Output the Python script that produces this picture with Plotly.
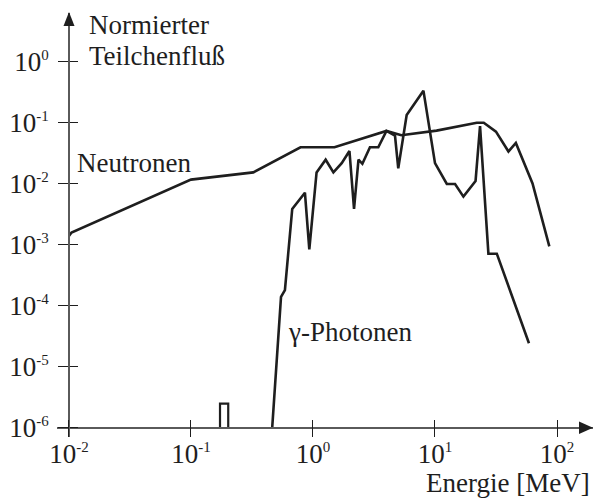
import plotly.graph_objects as go

# ---- data ----
neutron_E = [0.01, 0.0105, 0.1, 0.324, 0.79, 1.5, 4.0, 5.3, 10.3, 22.0, 25.1, 31.6, 40.0, 46.0, 63.0, 86.5]
neutron_F = [1.41e-3, 1.6e-3, 0.0118, 0.0155, 0.040, 0.040, 0.074, 0.063, 0.075, 0.101, 0.101, 0.072, 0.034, 0.047, 0.0102, 9.5e-4]

gamma_E = [0.463, 0.547, 0.589, 0.676, 0.859, 0.933, 1.07, 1.27, 1.47, 1.72, 1.99, 2.17, 2.36, 2.54,
           2.93, 3.43, 4.0, 4.7, 5.0, 5.86, 8.04, 10.0, 12.5, 14.6, 17.1, 21.5, 23.4, 27.4, 32.1, 58.9]
gamma_F = [1e-6, 1.41e-4, 1.82e-4, 3.9e-3, 7.2e-3, 8.5e-4, 0.0155, 0.025, 0.0155, 0.022, 0.0347, 3.9e-3, 0.025, 0.0214,
           0.040, 0.040, 0.074, 0.062, 0.018, 0.135, 0.339, 0.022, 0.010, 0.010, 6.2e-3, 0.0112, 0.089, 7.2e-4, 7.2e-4, 2.45e-5]

bump_E = [0.173, 0.173, 0.202, 0.202]
bump_F = [1e-6, 2.5e-6, 2.5e-6, 1e-6]

x_tickvals = [0.01, 0.1, 1, 10, 100]
x_exps = ["-2", "-1", "0", "1", "2"]
y_tickvals = [1e-6, 1e-5, 1e-4, 1e-3, 1e-2, 1e-1, 1]
y_exps = ["-6", "-5", "-4", "-3", "-2", "-1", "0"]

def pow_label(e):
    return f"10<sup><span style='font-size:15px'>{e}</span></sup>"

x_ticktext = [pow_label(e) for e in x_exps]
y_ticktext = [pow_label(e) for e in y_exps]

# ---- geometry ----
W, H = 593, 502
L, R, T, B = 57, 0, 13, 65
PW, PH = W - L - R, H - T - B
XR = [-2.098, 2.295]
YR = [-6.148, 0.803]
FONT = "'Liberation Serif', 'Times New Roman', Times, 'DejaVu Serif', serif"
AX = "#5a5a5a"
INK = "#1e1e1e"

def px(x):
    return (x - L) / PW

def py(y):
    return (H - B - y) / PH

yaxis_pos = px(69)
xaxis_pos = py(427.7)

fig = go.Figure()
line = dict(color=INK, width=2.6)
fig.add_trace(go.Scatter(x=neutron_E, y=neutron_F, mode="lines", line=line, hoverinfo="skip"))
fig.add_trace(go.Scatter(x=gamma_E, y=gamma_F, mode="lines", line=line, hoverinfo="skip"))
fig.add_trace(go.Scatter(x=bump_E, y=bump_F, mode="lines", line=dict(color=INK, width=2.2), hoverinfo="skip"))
# helper trace for inner-tick axes
fig.add_trace(go.Scatter(x=[1], y=[1], xaxis="x2", yaxis="y2", mode="markers",
                         marker=dict(opacity=0), hoverinfo="skip"))

tickfont = dict(family=FONT, size=27, color=INK)
common = dict(type="log", showgrid=False, zeroline=False)

fig.update_layout(
    width=W, height=H, margin=dict(l=L, r=R, t=T, b=B),
    paper_bgcolor="white", plot_bgcolor="white", showlegend=False,
    font=dict(family=FONT, size=27, color=INK),
    xaxis=dict(**common, range=XR, anchor="free", position=xaxis_pos,
               showline=True, linecolor=AX, linewidth=1.5,
               ticks="outside", ticklen=9, tickwidth=1.3, tickcolor=INK,
               tickvals=x_tickvals, ticktext=x_ticktext, tickfont=tickfont,
               ticklabelstandoff=-7),
    yaxis=dict(**common, range=YR, anchor="free", position=yaxis_pos,
               showline=True, linecolor=AX, linewidth=1.5,
               ticks="outside", ticklen=10, tickwidth=1.3, tickcolor=INK,
               tickvals=y_tickvals, ticktext=y_ticktext, tickfont=tickfont,
               ticklabelstandoff=4),
    xaxis2=dict(**common, range=XR, overlaying="x", anchor="free", position=xaxis_pos,
                showline=False, ticks="inside", ticklen=8, tickwidth=1.3, tickcolor=INK,
                tickvals=x_tickvals, showticklabels=False),
    yaxis2=dict(**common, range=YR, overlaying="y", anchor="free", position=yaxis_pos,
                showline=False, ticks="inside", ticklen=8, tickwidth=1.3, tickcolor=INK,
                tickvals=y_tickvals, showticklabels=False),
)

# arrow heads
fig.add_shape(type="path", xref="paper", yref="paper",
              path=f"M {px(69)} {py(12)} L {px(63.5)} {py(26)} L {px(74.5)} {py(26)} Z",
              fillcolor=INK, line=dict(width=0))
fig.add_shape(type="path", xref="paper", yref="paper",
              path=f"M {px(593)} {py(427.7)} L {px(579)} {py(421.5)} L {px(579)} {py(434)} Z",
              fillcolor=INK, line=dict(width=0))

def label(text, x, y, xanchor="left"):
    fig.add_annotation(text=text, xref="paper", yref="paper", x=px(x), y=py(y),
                       xanchor=xanchor, yanchor="middle", showarrow=False,
                       font=dict(family=FONT, size=27, color=INK))

label("Normierter", 87, 25)
label("Teilchenfluß", 87, 56)
label("Neutronen", 75, 163)
label("γ-Photonen", 286, 332)
label("Energie [MeV]", 592, 483, xanchor="right")

fig.write_html("out.html")
